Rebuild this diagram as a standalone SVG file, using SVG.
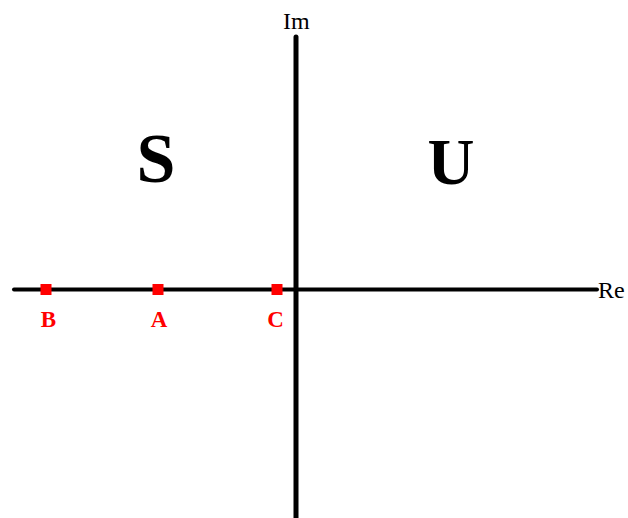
<svg xmlns="http://www.w3.org/2000/svg" width="628" height="518" viewBox="0 0 628 518">
<style>
.ax{stroke:#000;fill:none;stroke-linecap:round}
.pt{fill:#ff0000}
.lbl{font-family:"Liberation Serif",serif;fill:#000}
.big{font-family:"Liberation Serif",serif;font-weight:bold;fill:#000;text-anchor:middle}
.plbl{font-family:"Liberation Serif",serif;font-weight:bold;fill:#ff0000;font-size:23px;text-anchor:middle}
</style>
<rect width="628" height="518" fill="#fff"/>
<g id="connectors">
<line class="ax" x1="14" y1="289.5" x2="597" y2="289.5" stroke-width="4"/>
<line class="ax" x1="296" y1="37" x2="296" y2="520" stroke-width="5"/>
</g>
<g id="im"><text class="lbl" x="283" y="29" font-size="24">Im</text></g>
<g id="re"><text class="lbl" x="598" y="298" font-size="24">Re</text></g>
<g id="S"><text class="big" x="156" y="182" font-size="70">S</text></g>
<g id="U"><text class="big" x="451" y="184" font-size="65">U</text></g>
<g id="B"><rect class="pt" x="40.5" y="284" width="11" height="11"/><text class="plbl" x="48.5" y="327">B</text></g>
<g id="A"><rect class="pt" x="152.5" y="284" width="11" height="11"/><text class="plbl" x="159" y="327">A</text></g>
<g id="C"><rect class="pt" x="271.5" y="284" width="11" height="11"/><text class="plbl" x="275.5" y="327">C</text></g>
</svg>
